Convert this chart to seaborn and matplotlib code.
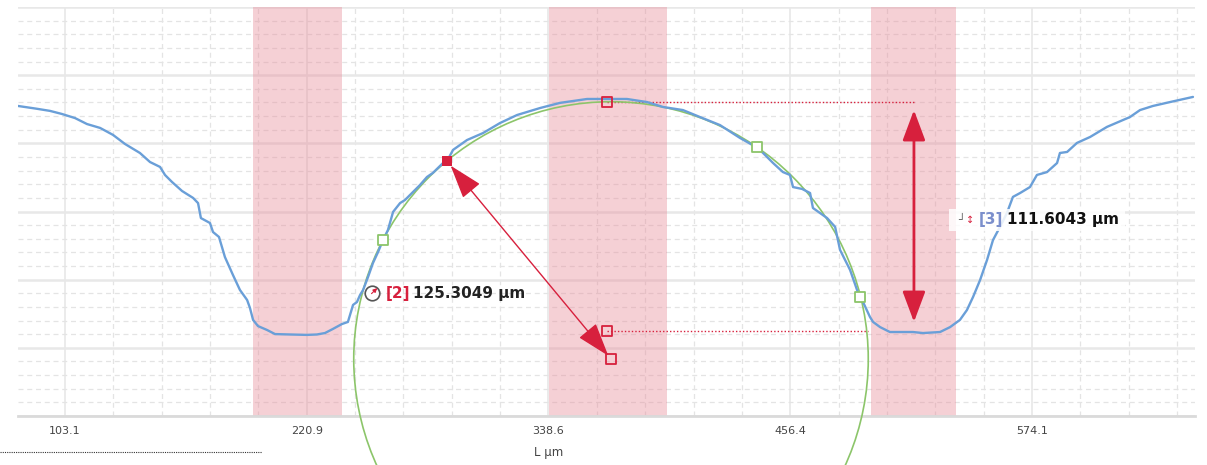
import numpy as np
import matplotlib
matplotlib.use("Agg")
import matplotlib.pyplot as plt
import matplotlib.transforms as mtransforms
import seaborn as sns
from matplotlib.patches import Circle, Rectangle
from matplotlib.lines import Line2D
from matplotlib.ticker import FixedLocator, MultipleLocator, NullFormatter

# ---------------- data (µm) ----------------
profile_x = [80.2, 89.0, 95.8, 101.6, 108.0, 113.8, 120.2, 126.5, 132.3, 139.6,
             144.5, 149.4, 151.8, 155.2, 160.1, 165.5, 167.9, 169.3, 173.7, 175.2,
             178.1, 181.0, 184.9, 188.3, 191.8, 193.2, 194.7, 197.1, 201.5, 205.4,
             212.7, 221.0, 225.8, 229.7, 233.6, 238.0, 240.9, 243.4, 245.3, 246.8,
             248.3, 250.7, 253.1, 255.6, 258.0, 260.4, 262.9, 266.3, 268.7, 271.1,
             276.0, 279.4, 282.3, 287.2, 289.2, 292.1, 298.9, 306.7, 315.0, 323.3,
             334.5, 344.2, 357.4, 367.1, 376.8, 386.6, 394.4, 404.1, 412.4, 422.1,
             431.9, 440.6, 443.1, 448.0, 452.8, 456.2, 457.7, 462.1, 466.0, 467.4,
             470.8, 474.3, 478.2, 480.6, 485.5, 489.4, 491.8, 495.2, 496.7, 500.1,
             504.9, 516.1, 521.0, 529.3, 534.2, 539.0, 542.4, 545.4, 548.8, 552.2,
             555.1, 558.5, 561.9, 564.8, 568.3, 573.1, 576.5, 581.4, 586.3, 587.7,
             591.2, 596.0, 602.4, 610.6, 621.8, 626.7, 633.0, 641.3, 652.5]
profile_y = [151.0, 149.7, 148.6, 147.1, 145.1, 142.2, 140.3, 136.9, 132.5, 128.1,
             123.7, 121.3, 117.4, 114.0, 109.6, 106.2, 103.7, 96.4, 94.0, 89.6,
             87.2, 77.4, 68.7, 61.4, 56.5, 52.6, 46.8, 43.8, 41.9, 39.9,
             39.7, 39.5, 39.7, 40.4, 42.4, 44.8, 45.8, 54.1, 55.5, 58.9,
             61.4, 67.7, 74.5, 79.9, 85.7, 90.6, 99.4, 103.7, 105.2, 107.6,
             112.5, 116.4, 118.4, 123.2, 124.2, 129.6, 134.4, 137.8, 142.7, 146.6,
             150.0, 152.5, 154.4, 154.4, 154.4, 152.9, 150.5, 149.0, 145.6, 141.7,
             135.4, 130.5, 128.1, 123.2, 118.8, 117.4, 111.5, 110.6, 108.6, 101.3,
             98.9, 96.4, 92.1, 80.9, 71.1, 59.9, 55.5, 48.2, 45.8, 43.3,
             40.9, 40.9, 40.4, 40.9, 43.3, 46.8, 51.6, 58.0, 66.2, 76.0,
             85.7, 92.1, 98.9, 106.7, 108.6, 111.5, 117.4, 118.8, 123.2, 128.1,
             128.6, 133.0, 135.9, 140.8, 145.6, 149.0, 151.0, 152.9, 155.4]

tick_values = [103.1, 220.85, 338.6, 456.35, 574.1]
tick_labels = ["103.1", "220.9", "338.6", "456.4", "574.1"]
x_label = "L µm"

band_starts = [194.7, 338.8, 495.7]
band_ends = [238.0, 396.3, 537.1]

circle_center_x = 369.04
circle_center_y = 27.76
circle_radius = 125.3049

fit_points_x = [258.0, 440.1, 490.3]
fit_points_y = [85.7, 131.0, 58.0]
radius_point_x = 289.2
radius_point_y = 124.0

depth_top = 153.06
depth_value = 111.6043
depth_marker_x = 367.1

radius_label = ["[2]", "125.3049 µm"]
depth_label = ["[3]", "111.6043 µm"]

# ---------------- styling ----------------
RED = "#d7203d"
BLUE = "#6a9fd8"
GREEN = "#8cc56a"
GRID = "#e8e8e8"
W, H = 1207, 465

sns.set_style("white")
plt.rcParams["font.family"] = ["DejaVu Sans"]

fig = plt.figure(figsize=(W / 100, H / 100), dpi=100)
ax = fig.add_axes([18 / W, 49 / H, 1177 / W, 409 / H])

ax.set_xlim(80.21, 653.49)
ax.set_ylim(0, 199.2)

# grid
ax.xaxis.set_major_locator(FixedLocator(tick_values))
ax.set_xticklabels(tick_labels)
minor_x = np.arange(tick_values[0] - 23.55, 660, 23.55)
ax.xaxis.set_minor_locator(FixedLocator(minor_x))
ax.yaxis.set_major_locator(MultipleLocator(33.2))
ax.yaxis.set_minor_locator(MultipleLocator(6.64))
ax.yaxis.set_major_formatter(NullFormatter())
ax.set_axisbelow(True)
ax.grid(which="major", axis="x", color=GRID, lw=1.2, ls="-")
ax.grid(which="major", axis="y", color=GRID, lw=1.8, ls="-")
ax.grid(which="minor", color="#e4e4e4", lw=0.9, ls=(0, (4, 3)))

for s in ["left", "right", "top"]:
    ax.spines[s].set_visible(False)
ax.spines["bottom"].set_color("#dadada")
ax.spines["bottom"].set_linewidth(2)
ax.tick_params(axis="x", which="both", length=3, width=1, color="#dadada",
               labelsize=8, labelcolor="#444444", pad=4)
ax.tick_params(axis="y", which="both", length=0)

# shaded bands
for lo, hi in zip(band_starts, band_ends):
    ax.axvspan(lo, hi, color="#e88a98", alpha=0.4, lw=0, zorder=1)

# dotted reference lines for the depth
depth_bottom = depth_top - depth_value
ax.plot([depth_marker_x, 516.6], [depth_top, depth_top], ls=(0, (1, 1.5)),
        color=RED, lw=1, zorder=3)
ax.plot([depth_marker_x, 494.2], [depth_bottom, depth_bottom], ls=(0, (1, 1.5)),
        color=RED, lw=1, zorder=3)

# fitted circle
ax.add_patch(Circle((circle_center_x, circle_center_y), circle_radius, fill=False,
                    ec=GREEN, lw=1.2, clip_on=False, zorder=3))

# profile
sns.lineplot(x=profile_x, y=profile_y, ax=ax, color=BLUE, lw=1.7, sort=False,
             estimator=None, zorder=4)

# markers
ax.scatter(fit_points_x, fit_points_y, marker="s", s=60, facecolor="white",
           edgecolor=GREEN, lw=1.3, zorder=6)
ax.scatter([radius_point_x], [radius_point_y], marker="s", s=60, color=RED,
           lw=0, zorder=6)
ax.scatter([depth_marker_x, depth_marker_x, circle_center_x],
           [depth_top, depth_bottom, circle_center_y], marker="s", s=55,
           facecolor="none", edgecolor=RED, lw=1.3, zorder=6)

# radius arrow
ax.annotate("", xy=(radius_point_x, radius_point_y),
            xytext=(circle_center_x, circle_center_y),
            arrowprops=dict(arrowstyle="<|-|>,head_length=0.85,head_width=0.28",
                            mutation_scale=25, color=RED, lw=1,
                            shrinkA=3, shrinkB=4), zorder=5)
# depth arrow
ax.annotate("", xy=(516.6, 149.0), xytext=(516.6, 45.8),
            arrowprops=dict(arrowstyle="<|-|>,head_length=0.75,head_width=0.28",
                            mutation_scale=25, color=RED, lw=2,
                            shrinkA=0, shrinkB=0), zorder=5)

# radius label
ax.scatter([252.6], [59.9], marker="o", s=110, facecolor="white",
           edgecolor="#555555", lw=1.2, zorder=7)
ax.annotate("", xy=(255.2, 62.3), xytext=(252.4, 59.6),
            arrowprops=dict(arrowstyle="-|>,head_length=0.4,head_width=0.2",
                            mutation_scale=6, color=RED, lw=0.8,
                            shrinkA=0, shrinkB=0), zorder=8)
ax.text(259.4, 59.9, radius_label[0], color=RED, fontsize=11,
        fontweight="bold", ha="left", va="center", zorder=8)
ax.text(272.6, 59.9, radius_label[1], color="#222222", fontsize=11,
        fontweight="bold", ha="left", va="center", zorder=8)

# depth label
ax.add_patch(Rectangle((533.9, 90.1), 85.5, 10.7, facecolor="white", alpha=0.85,
                       ec="none", zorder=6))
ax.text(538.3, 95.3, "┘", color="#666666", fontsize=8, ha="left",
        va="center", zorder=8)
ax.text(541.8, 95.6, "↕", color=RED, fontsize=7, ha="left",
        va="center", zorder=8)
ax.text(548.3, 95.5, depth_label[0], color="#7b8fcc", fontsize=11,
        fontweight="bold", ha="left", va="center", zorder=8)
ax.text(561.9, 95.5, depth_label[1], color="#111111", fontsize=11,
        fontweight="bold", ha="left", va="center", zorder=8)

# x label
trans = mtransforms.blended_transform_factory(ax.transData, fig.transFigure)
ax.text(tick_values[2], 1 - 452 / H, x_label, transform=trans, ha="center",
        va="center", fontsize=8.5, color="#444444")

# dotted legend line at bottom-left
fig.add_artist(Line2D([0, 262 / W], [1 - 452 / H, 1 - 452 / H],
                      transform=fig.transFigure, ls=(0, (1, 1)),
                      color="#333333", lw=0.8))

fig.savefig("out.png", dpi=100)
